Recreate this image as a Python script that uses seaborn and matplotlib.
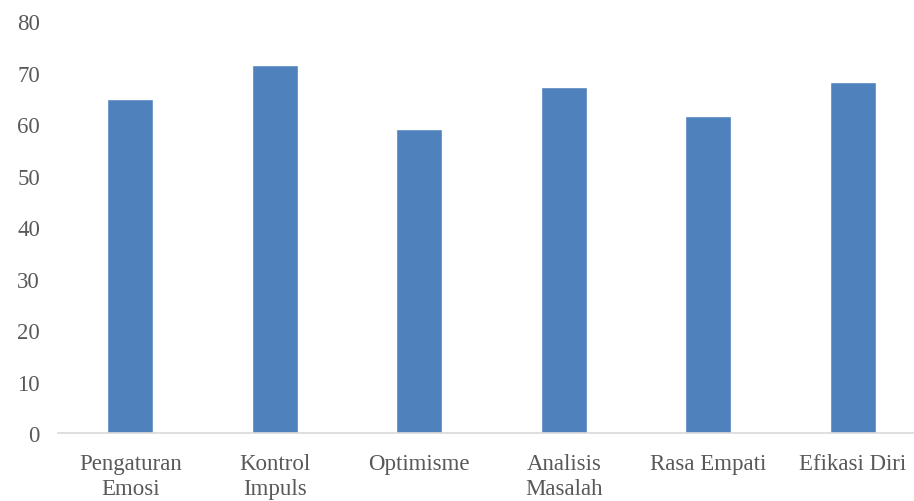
import matplotlib
matplotlib.use("Agg")
import matplotlib.pyplot as plt
import seaborn as sns
import pandas as pd

# Data
aspek = ["Pengaturan\nEmosi", "Kontrol\nImpuls", "Optimisme", "Analisis\nMasalah",
         "Rasa Empati", "Efikasi Diri"]
skor = [65.0, 71.6, 59.0, 67.2, 61.6, 68.2]
y_ticks = [0, 10, 20, 30, 40, 50, 60, 70, 80]

df = pd.DataFrame({"aspek": aspek, "skor": skor})

sns.set_style("white")
plt.rcParams["font.family"] = ["Liberation Serif", "DejaVu Serif"]

fig = plt.figure(figsize=(9.14, 5.02), dpi=100)
ax = fig.add_axes([58 / 914, 1 - 434.3 / 502, 867 / 914, (434.3 - 22.3) / 502])

sns.barplot(data=df, x="aspek", y="skor", color="#4f81bd", width=0.316,
            saturation=1, ax=ax)

ax.set_ylim(0, 80)
ax.set_xlim(-0.5, 5.5)
ax.set_yticks(y_ticks)
ax.set_xlabel("")
ax.set_ylabel("")

for side in ["top", "right", "left"]:
    ax.spines[side].set_visible(False)
ax.spines["bottom"].set_color("#d9d9d9")
ax.spines["bottom"].set_linewidth(1.2)

ax.tick_params(axis="both", length=0, labelsize=16.5, colors="#595959")
ax.tick_params(axis="y", pad=13)
ax.tick_params(axis="x", pad=14.5)
for lbl in ax.get_xticklabels():
    lbl.set_linespacing(1.2)

fig.savefig("out.png", dpi=100)
plt.close(fig)
